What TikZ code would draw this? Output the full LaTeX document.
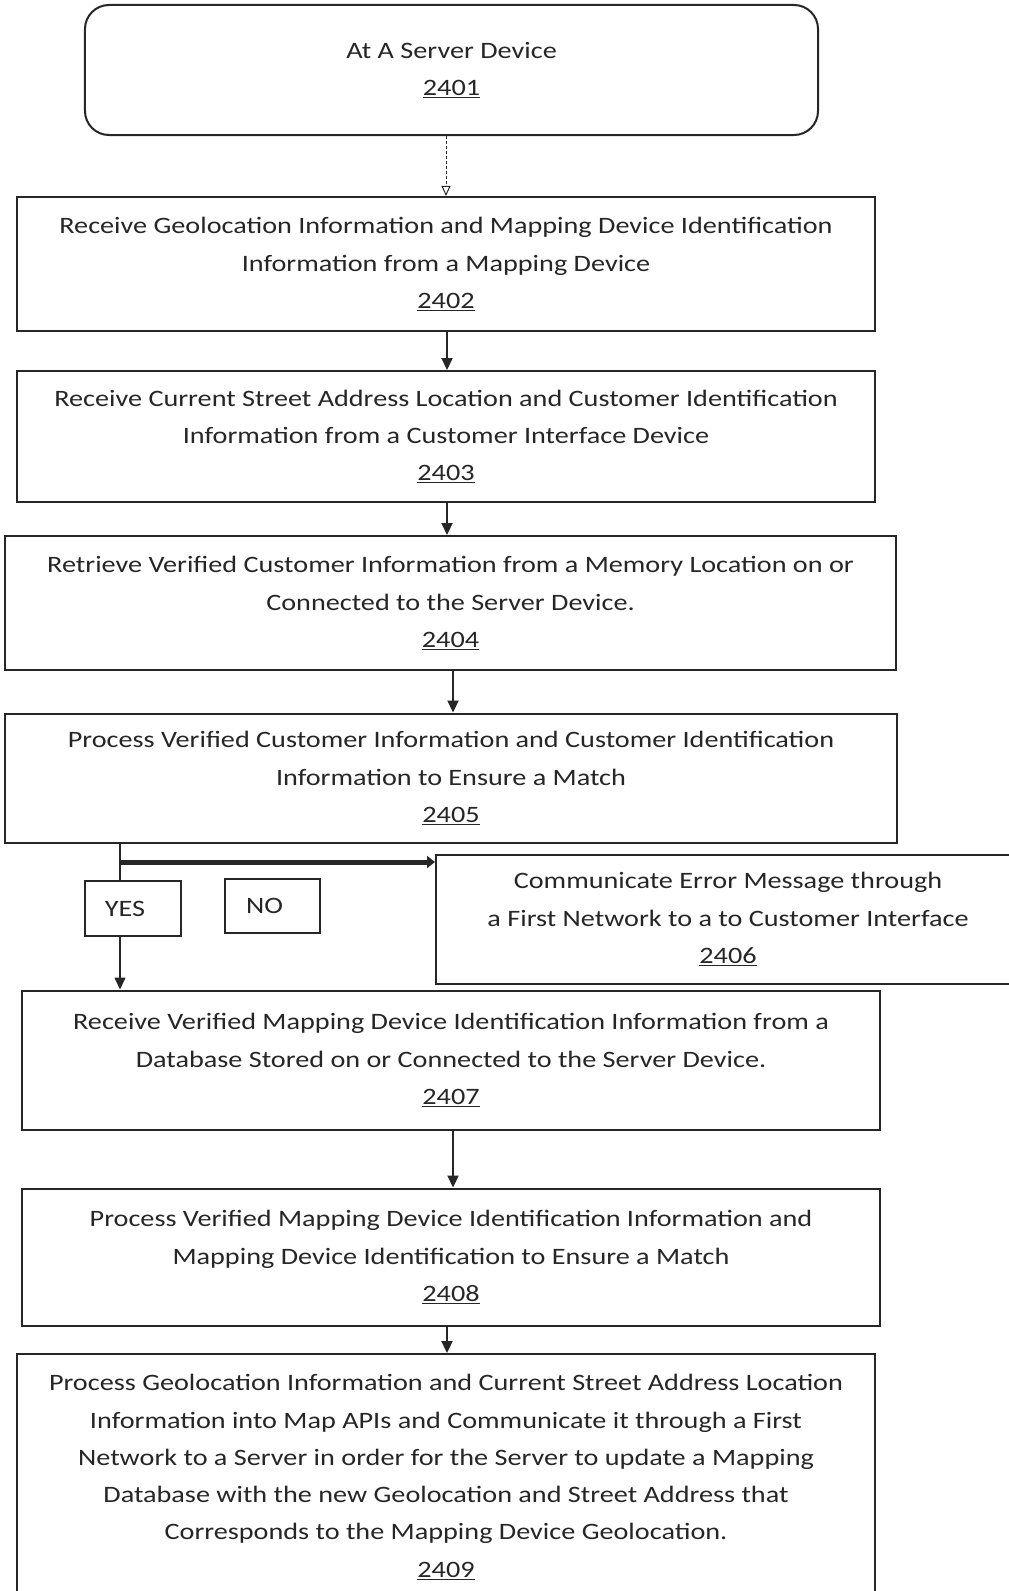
\documentclass[tikz,border=0pt]{standalone}
\usepackage{fontspec}
\setmainfont{Carlito}[FakeStretch=1.2]
\usetikzlibrary{arrows.meta}
\begin{document}
\begin{tikzpicture}[x=1bp,y=-1bp,
  box/.style={draw=black!85, line width=2bp, align=center, inner sep=0pt, fill=white,
    font=\fontsize{23.6}{37.4}\selectfont, text=black!85},
  flow/.style={draw=black!85, line width=2.2bp, -{Triangle[width=11bp,length=12bp]}},
  plainline/.style={draw=black!85, line width=1.6bp},
  thinflow/.style={draw=black!85, line width=1bp, densely dashed, -{Triangle[open,width=9bp,length=10bp]}}]
\useasboundingbox (0,0) rectangle (1008,1591);

\node[box, rounded corners=24bp, minimum width=733bp, minimum height=130bp] (n2401) at (451.5,70)
  {At A Server Device\\\underline{2401}};
\node[box, minimum width=858bp, minimum height=134bp] (n2402) at (446,264)
  {Receive Geolocation Information and Mapping Device Identification\\Information from a Mapping Device\\\underline{2402}};
\node[box, minimum width=858bp, minimum height=131bp] (n2403) at (446,436.5)
  {Receive Current Street Address Location and Customer Identification\\Information from a Customer Interface Device\\\underline{2403}};
\node[box, minimum width=891bp, minimum height=134bp] (n2404) at (450.5,603)
  {Retrieve Verified Customer Information from a Memory Location on or\\Connected to the Server Device.\\\underline{2404}};
\node[box, minimum width=892bp, minimum height=129bp] (n2405) at (451,778)
  {Process Verified Customer Information and Customer Identification\\Information to Ensure a Match\\\underline{2405}};
\node[box, minimum width=96bp, minimum height=55bp] (yes) at (133,908.5) {\hspace*{-16bp}YES};
\node[box, minimum width=95bp, minimum height=54bp] (no) at (272.5,906) {\hspace*{-16bp}NO};
\node[box, minimum width=584bp, minimum height=129bp] (n2406) at (728,919)
  {Communicate Error Message through\\a First Network to a to Customer Interface\\\underline{2406}};
\node[box, minimum width=858bp, minimum height=139bp] (n2407) at (451,1060)
  {Receive Verified Mapping Device Identification Information from a\\Database Stored on or Connected to the Server Device.\\\underline{2407}};
\node[box, minimum width=858bp, minimum height=137bp] (n2408) at (451,1257)
  {Process Verified Mapping Device Identification Information and\\Mapping Device Identification to Ensure a Match\\\underline{2408}};
\node[box, minimum width=858bp, minimum height=246bp] (n2409) at (446,1477)
  {Process Geolocation Information and Current Street Address Location\\Information into Map APIs and Communicate it through a First\\Network to a Server in order for the Server to update a Mapping\\Database with the new Geolocation and Street Address that\\Corresponds to the Mapping Device Geolocation.\\\underline{2409}};

% connectors
\coordinate (branch) at (120,862);
\draw[thinflow] (n2401.south -| 446,0) -- (n2402.north -| 446,0);
\draw[flow] (n2402.south -| 447,0) -- (n2403.north -| 447,0);
\draw[flow] (n2403.south -| 447,0) -- (n2404.north -| 447,0);
\draw[flow] (n2404.south -| 453,0) -- (n2405.north -| 453,0);
\draw[plainline] (n2405.south -| branch) -- (yes.north -| branch);
\draw[flow, line width=1.6bp] (yes.south -| branch) -- (n2407.north -| branch);
\draw[flow, line width=5bp, -{Triangle[width=12bp,length=8bp]}] (branch) -- (branch -| n2406.west);
\draw[flow] (n2407.south -| 453,0) -- (n2408.north -| 453,0);
\draw[flow] (n2408.south -| 447,0) -- (n2409.north -| 447,0);
\end{tikzpicture}
\end{document}
